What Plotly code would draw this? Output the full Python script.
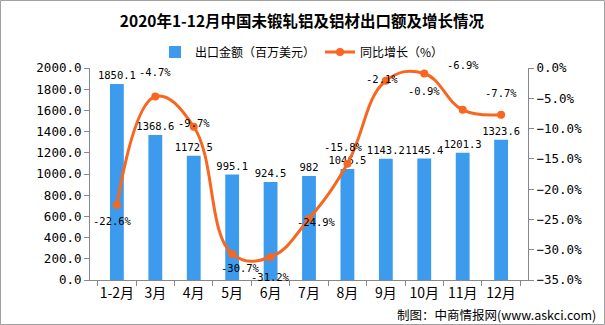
import plotly.graph_objects as go

categories = ["1-2月", "3月", "4月", "5月", "6月", "7月", "8月", "9月", "10月", "11月", "12月"]
export_value = [1850.1, 1368.6, 1172.5, 995.1, 924.5, 982, 1046.5, 1143.2, 1145.4, 1201.3, 1323.6]
yoy_growth = [-22.6, -4.7, -9.7, -30.7, -31.2, -24.9, -15.8, -2.1, -0.9, -6.9, -7.7]

# label offsets (style) for the growth labels, in px
label_dx = [-4, 0, 0, 8, 0, 7, -4, -4, 0, 0, 0]
label_dy = [-16, 24, 4, -14, -20, -3, 17, 2, -18, 45, 22]

BLUE = "#3D9BEE"
ORANGE = "#F8661F"
MONO = "DejaVu Sans Mono"
CJK = "Noto Sans CJK SC"

L, R, T, B = 90, 77, 68, 45
W, H = 605, 325
PW, PH = W - L - R, H - T - B

fig = go.Figure()
fig.add_trace(go.Bar(
    x=categories, y=export_value, name="出口金额（百万美元）",
    marker=dict(color=BLUE, line=dict(width=0)), width=0.36,
    text=[f"{v:g}" for v in export_value], textposition="outside",
    constraintext="none", cliponaxis=False,
    textfont=dict(family=MONO, size=10.5, color="#000000"),
    yaxis="y",
))
fig.add_trace(go.Scatter(
    x=categories, y=yoy_growth, name="同比增长（%）", mode="lines+markers",
    line=dict(color=ORANGE, width=3, shape="spline", smoothing=1.2),
    marker=dict(color=ORANGE, size=8), yaxis="y2", cliponaxis=False,
))

annotations = []
for c, v, dx, dy in zip(categories, yoy_growth, label_dx, label_dy):
    annotations.append(dict(
        x=c, y=v, xref="x", yref="y2", text=f"{v:.1f}%", showarrow=False,
        xshift=dx, yshift=dy, font=dict(family=MONO, size=10.5, color="#000000"),
    ))
annotations.append(dict(
    x=(598 - L) / PW, y=(T + PH - 314) / PH, xref="paper", yref="paper",
    xanchor="right", yanchor="middle", showarrow=False,
    text="制图：中商情报网(www.askci.com)",
    font=dict(family=CJK, size=12.5, color="#000000"),
))

fig.update_layout(
    width=W, height=H, margin=dict(l=L, r=R, t=T, b=B),
    paper_bgcolor="white", plot_bgcolor="white",
    title=dict(text="<b>2020年1-12月中国未锻轧铝及铝材出口额及增长情况</b>",
               x=(302) / W, xanchor="center", y=1 - 22 / H, yanchor="middle",
               font=dict(family=CJK, size=15.5, color="#000000")),
    legend=dict(orientation="h", x=(302 - L) / PW, xanchor="center",
                y=1 + (T - 52) / PH, yanchor="middle",
                font=dict(family=CJK, size=12, color="#000000"),
                bgcolor="rgba(0,0,0,0)", itemwidth=30),
    showlegend=True,
    bargap=0.6,
    xaxis=dict(showline=True, linecolor="#888888", linewidth=1,
               ticks="outside", tickcolor="#888888", ticklen=5,
               tickson="boundaries", showgrid=False, tickangle=0,
               tickfont=dict(family=CJK, size=14, color="#000000")),
    yaxis=dict(range=[0, 2000], dtick=200, tickformat=".1f",
               showline=True, linecolor="#888888", linewidth=1,
               ticks="outside", tickcolor="#888888", ticklen=5,
               showgrid=False, zeroline=False,
               tickfont=dict(family=MONO, size=12.5, color="#000000")),
    yaxis2=dict(range=[-35, 0], dtick=5, tickformat=".1f", ticksuffix="%",
                overlaying="y", side="right",
                showline=True, linecolor="#888888", linewidth=1,
                ticks="outside", tickcolor="#888888", ticklen=5,
                showgrid=False, zeroline=False,
                tickfont=dict(family=MONO, size=12.5, color="#000000")),
    annotations=annotations,
    shapes=[dict(type="rect", xref="paper", yref="paper",
                 x0=(0.5 - L) / PW, x1=(W - 0.5 - L) / PW,
                 y0=(T + PH - (H - 0.5)) / PH, y1=(T + PH - 0.5) / PH,
                 line=dict(color="#A0A0A0", width=1), layer="below")],
)

fig.write_html("out.html")
